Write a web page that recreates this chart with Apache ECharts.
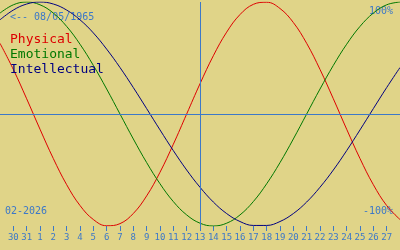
<!DOCTYPE html>
<html>
<head>
<meta charset="utf-8">
<script src="https://cdn.jsdelivr.net/npm/echarts@6/dist/echarts.min.js"></script>
<style>
html,body{margin:0;padding:0;background:#e0d488;}
#chart{width:400px;height:250px;}
</style>
</head>
<body>
<div id="chart"></div>
<script>
// Days shown (Jan 29 .. Feb 28, 2026)
const days = ['29','30','31','1','2','3','4','5','6','7','8','9','10','11','12','13','14','15','16','17','18','19','20','21','22','23','24','25','26','27','28'];
const today = '13';
const birthLabel = '<-- 08/05/1965';
const monthLabel = '02-2026';
const topLabel = '100%';
const bottomLabel = '-100%';
// Values in percent
const physical = [63.1,39.8,13.6,-13.6,-39.8,-63.1,-81.7,-94.2,-99.8,-97.9,-88.8,-73.1,-52.0,-27.0,0,27.0,52.0,73.1,88.8,97.9,99.8,94.2,81.7,63.1,39.8,13.6,-13.6,-39.8,-63.1,-81.7,-94.2];
const emotional = [90.1,97.5,100,97.5,90.1,78.2,62.3,43.4,22.3,0,-22.3,-43.4,-62.3,-78.2,-90.1,-97.5,-100,-97.5,-90.1,-78.2,-62.3,-43.4,-22.3,0,22.3,43.4,62.3,78.2,90.1,97.5,100];
const intellectual = [84.1,92.8,98.2,100,98.2,92.8,84.1,72.4,57.9,41.5,23.6,4.8,-14.2,-32.7,-50.0,-65.4,-78.6,-88.9,-96.0,-99.5,-99.5,-96.0,-88.9,-78.6,-65.4,-50.0,-32.7,-14.2,4.8,23.6,41.5];

const BG = '#e0d488';
const AX = '#3c78c8';
const RED = '#dd0000';
const GREEN = '#007800';
const NAVY = '#000080';
const MONO = '"DejaVu Sans Mono", monospace';

const chart = echarts.init(document.getElementById('chart'), null, {renderer:'canvas'});
const showTick = (i) => i >= 1 && i <= days.length - 2;

chart.setOption({
  backgroundColor: BG,
  animation: false,
  grid: {left: 0, right: 0, top: 2, bottom: 24},
  legend: {
    orient: 'vertical', left: 5, top: 33, padding: 0, icon: 'none', itemWidth: 0, itemHeight: 13, itemGap: 2,
    selectedMode: false,
    textStyle: {fontFamily: MONO, fontSize: 13},
    data: [
      {name: 'Physical', textStyle: {color: RED}},
      {name: 'Emotional', textStyle: {color: GREEN}},
      {name: 'Intellectual', textStyle: {color: NAVY}}
    ]
  },
  xAxis: {
    type: 'category', data: days, boundaryGap: false,
    axisLine: {show: false, onZero: false},
    axisTick: {show: true, length: 5, interval: showTick, lineStyle: {color: AX, width: 1}},
    axisLabel: {interval: showTick, color: AX, fontFamily: MONO, fontSize: 9, margin: 7},
    splitLine: {show: false}
  },
  yAxis: {
    type: 'value', min: -100, max: 100,
    axisLine: {show: false}, axisTick: {show: false}, axisLabel: {show: false}, splitLine: {show: false}
  },
  graphic: [
    {type: 'text', left: 10, top: 12, style: {text: birthLabel, fill: AX, font: '10px ' + MONO}},
    {type: 'text', right: 7, top: 6, style: {text: topLabel, fill: AX, font: '10px ' + MONO}},
    {type: 'text', right: 7, top: 206, style: {text: bottomLabel, fill: AX, font: '10px ' + MONO}},
    {type: 'text', left: 5, top: 206, style: {text: monthLabel, fill: AX, font: '10px ' + MONO}}
  ],
  series: [
    {name: 'Physical', type: 'line', data: physical, smooth: 0.4, symbol: 'none',
     lineStyle: {color: RED, width: 1}, itemStyle: {color: RED}, z: 3,
     markLine: {silent: true, symbol: 'none', label: {show: false},
       lineStyle: {color: AX, type: 'solid', width: 1},
       data: [{yAxis: 0}, {xAxis: today}]}},
    {name: 'Emotional', type: 'line', data: emotional, smooth: 0.4, symbol: 'none',
     lineStyle: {color: GREEN, width: 1}, itemStyle: {color: GREEN}, z: 3},
    {name: 'Intellectual', type: 'line', data: intellectual, smooth: 0.4, symbol: 'none',
     lineStyle: {color: NAVY, width: 1}, itemStyle: {color: NAVY}, z: 3}
  ]
});
</script>
</body>
</html>
